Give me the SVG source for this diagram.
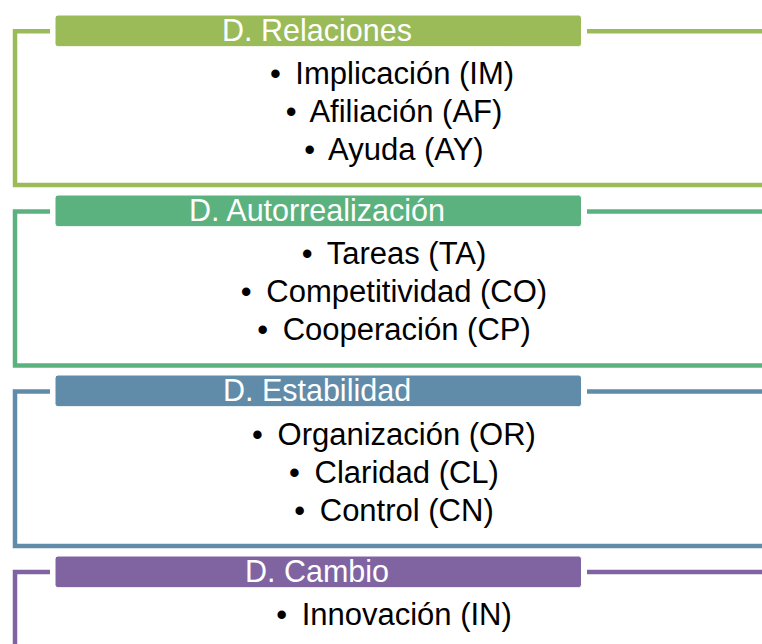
<svg xmlns="http://www.w3.org/2000/svg" width="762" height="644" viewBox="0 0 762 644">
<style>
.frame{fill:none;stroke-width:4.5;stroke-linejoin:miter;stroke-linecap:butt}
.bar{stroke:#ffffff;stroke-width:1}
.hdr{font-family:"Liberation Sans",Arial,sans-serif;font-size:30.5px;fill:#ffffff;text-anchor:middle}
.item{font-family:"Liberation Sans",Arial,sans-serif;font-size:31px;fill:#000000;text-anchor:middle}
</style>
<rect width="762" height="644" fill="#ffffff"/>
<g id="connectors">
<path class="frame" stroke="#9BBB59" d="M50,31.3 H15 V185 H762 M587,31.3 H762"/>
<path class="frame" stroke="#5BB27E" d="M50,211.5 H15 V365.5 H762 M587,211.5 H762"/>
<path class="frame" stroke="#608CAA" d="M50,391.5 H15 V546 H762 M587,391.5 H762"/>
<path class="frame" stroke="#8064A2" d="M50,572 H15 V650 M587,572 H762"/>
</g>
<g id="relaciones">
<rect class="bar" x="55" y="15" width="526.5" height="31.7" rx="3" fill="#9BBB59"/>
<text class="hdr" x="317" y="41">D. Relaciones</text>
<text class="item" x="392" y="84">•<tspan dx="6"> Implicación (IM)</tspan></text>
<text class="item" x="394" y="122">•<tspan dx="6"> Afiliación (AF)</tspan></text>
<text class="item" x="394" y="160">•<tspan dx="6"> Ayuda (AY)</tspan></text>
</g>
<g id="autorrealizacion">
<rect class="bar" x="55" y="195" width="526.5" height="31.7" rx="3" fill="#5BB27E"/>
<text class="hdr" x="317" y="221">D. Autorrealización</text>
<text class="item" x="394" y="264">•<tspan dx="6"> Tareas (TA)</tspan></text>
<text class="item" x="394" y="302">•<tspan dx="6"> Competitividad (CO)</tspan></text>
<text class="item" x="394" y="340">•<tspan dx="6"> Cooperación (CP)</tspan></text>
</g>
<g id="estabilidad">
<rect class="bar" x="55" y="375" width="526.5" height="31.7" rx="3" fill="#608CAA"/>
<text class="hdr" x="317" y="401">D. Estabilidad</text>
<text class="item" x="394" y="445">•<tspan dx="6"> Organización (OR)</tspan></text>
<text class="item" x="394" y="483">•<tspan dx="6"> Claridad (CL)</tspan></text>
<text class="item" x="394" y="521">•<tspan dx="6"> Control (CN)</tspan></text>
</g>
<g id="cambio">
<rect class="bar" x="55" y="556" width="526.5" height="31.7" rx="3" fill="#8064A2"/>
<text class="hdr" x="317" y="582">D. Cambio</text>
<text class="item" x="394" y="625">•<tspan dx="6"> Innovación (IN)</tspan></text>
</g>
</svg>
